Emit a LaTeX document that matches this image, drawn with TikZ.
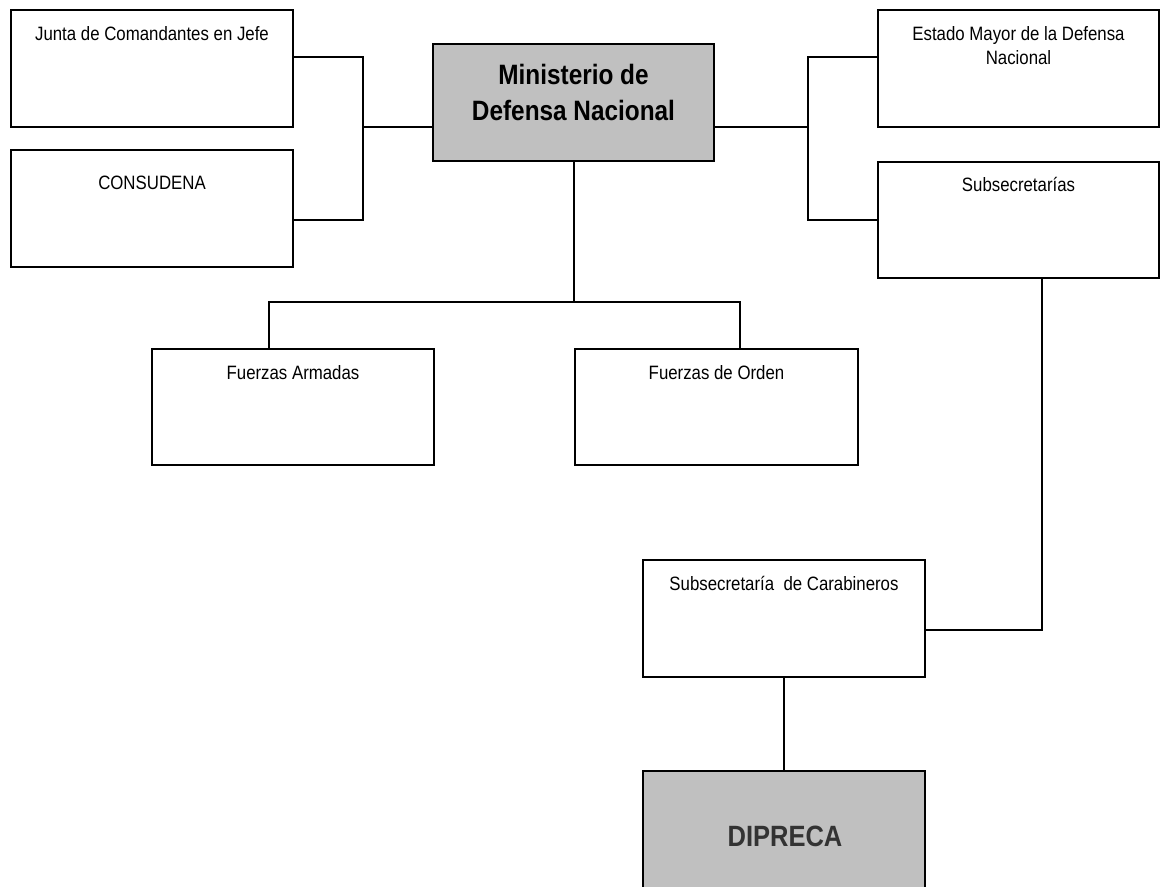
\documentclass[tikz,border=0pt]{standalone}
\usepackage{fontspec}
\setmainfont{Liberation Sans}[FakeStretch=0.87]
\definecolor{boxgray}{HTML}{C0C0C0}
\definecolor{darktext}{HTML}{333333}
\begin{document}
\begin{tikzpicture}[x=0.75pt,y=-0.75pt,
  box/.style n args={2}{draw=black, line width=1.5pt, rectangle, inner sep=0pt,
    minimum width=#1*0.75pt, minimum height=#2*0.75pt},
  whitebox/.style={fill=white},
  graybox/.style={fill=boxgray},
  lbl/.style={font=\fontsize{14.5pt}{18pt}\selectfont, anchor=base, inner sep=0pt, align=center},
  biglbl/.style={font=\bfseries\fontsize{21pt}{27pt}\selectfont, anchor=base, inner sep=0pt, align=center},
  conn/.style={draw=black, line width=1.5pt, line join=miter}]
\useasboundingbox (0,0) rectangle (1161,886);
\clip (0,0) rectangle (1161,886);
\fill[white] (0,0) rectangle (1161,886);

% boxes
\node[box={282}{117}, whitebox] (junta) at (152,68.5) {};
\node[box={282}{117}, whitebox] (consudena) at (152,208.5) {};
\node[box={281}{117}, graybox] (minis) at (573.5,102.5) {};
\node[box={281}{117}, whitebox] (estado) at (1018.5,68.5) {};
\node[box={281}{116}, whitebox] (subsec) at (1018.5,220) {};
\node[box={282}{116}, whitebox] (farm) at (293,407) {};
\node[box={283}{116}, whitebox] (ford) at (716.5,407) {};
\node[box={282}{117}, whitebox] (carab) at (784,618.5) {};
\node[box={282}{117}, graybox] (dipreca) at (784,829.5) {};

% labels
\node[lbl] (tjunta) at (152,40.5) {Junta de Comandantes en Jefe};
\node[lbl] (tconsudena) at (152,189) {CONSUDENA};
\node[lbl] (testado) at (1018.5,64) {Estado Mayor de la Defensa\\Nacional};
\node[lbl] (tsubsec) at (1018.5,191) {Subsecretarías};
\node[lbl] (tfarm) at (293,379) {Fuerzas Armadas};
\node[lbl] (tford) at (716.5,379) {Fuerzas de Orden};
\node[lbl] (tcarab) at (784,590) {Subsecretaría\ \ de Carabineros};
\node[biglbl] (tminis) at (573.5,120) {Ministerio de\\Defensa Nacional};
\node[biglbl, font=\bfseries\fontsize{22pt}{27pt}\selectfont, text=darktext] (tdipreca) at (785,846) {DIPRECA};

% junction coordinates
\coordinate (jl1) at (363,57);
\coordinate (jl2) at (363,220);
\coordinate (jlm) at (363,127);
\coordinate (jr1) at (808,57);
\coordinate (jr2) at (808,220);
\coordinate (jrm) at (808,127);
\coordinate (jb) at (574,302);
\coordinate (jbl) at (269,302);
\coordinate (jbr) at (740,302);
\coordinate (js) at (1042,630);

% connectors
\draw[conn] (junta.east |- jl1) -- (jl1) -- (jl2) -- (consudena.east |- jl2);
\draw[conn] (jlm) -- (minis.west |- jlm);
\draw[conn] (minis.east |- jrm) -- (jrm);
\draw[conn] (estado.west |- jr1) -- (jr1) -- (jr2) -- (subsec.west |- jr2);
\draw[conn] (minis.south -| jb) -- (jb);
\draw[conn] (farm.north -| jbl) -- (jbl) -- (jbr) -- (ford.north -| jbr);
\draw[conn] (subsec.south -| js) -- (js) -- (carab.east |- js);
\draw[conn] (carab.south) -- (dipreca.north);
\end{tikzpicture}
\end{document}
